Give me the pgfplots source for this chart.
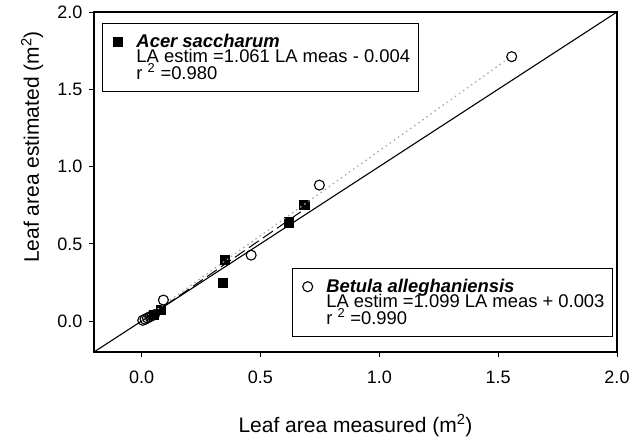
\documentclass[border=0pt]{standalone}
\usepackage{fontspec}
\setmainfont{Liberation Sans}
\usepackage{pgfplots}
\pgfplotsset{compat=1.18}
\newcommand{\legfont}{\fontsize{18.4}{18.4}\selectfont}
\newcommand{\ls}{\rule[-4.6pt]{0pt}{17.5pt}}
\pgfplotsset{
  common/.style={
    at={(0pt,0pt)}, anchor=south west,
    scale only axis, width=523pt, height=340pt,
    xmin=-0.2, xmax=2.0, ymin=-0.2, ymax=2.0,
    clip=false,
  },
  myleg/.style={
    legend cell align=left,
    legend style={draw=black, line width=1pt, fill=white, inner xsep=8pt, inner ysep=10.8pt,
      font=\legfont, column sep=0pt, row sep=0pt,
      nodes={inner sep=0pt}},
    legend image code/.code={\path (0pt,0pt) (25pt,0pt);
      \draw[mark repeat=2,mark phase=2,##1] plot coordinates {(7pt,0pt) (7pt,0pt) (7pt,0pt)};},
  },
}
\begin{document}
\begin{tikzpicture}
\useasboundingbox (-94pt,-88pt) rectangle (538pt,352pt);
\begin{axis}[common, myleg,
  xtick={0,0.5,1,1.5,2}, ytick={0,0.5,1,1.5,2},
  xtick pos=left, ytick pos=left,
  tick align=outside, major tick length=5pt,
  tick style={black, line width=1pt},
  axis line style={black, line width=1.1pt},
  /pgf/number format/.cd, fixed, fixed zerofill, precision=1, assume math mode=true, /pgfplots/.cd,
  tick label style={font=\fontsize{18}{18}\selectfont},
  xticklabel style={anchor=base, yshift=-26pt},
  yticklabel style={anchor=east, xshift=-3pt},
  xlabel={Leaf area measured (m\textsuperscript{2})},
  ylabel={Leaf area estimated (m\textsuperscript{2})},
  label style={font=\fontsize{21}{21}\selectfont},
  xlabel style={at={(rel axis cs:0.5,0)}, anchor=base, yshift=-80pt},
  ylabel style={at={(rel axis cs:-0.1052,0.603)}, anchor=base},
  legend style={at={(0,1)}, anchor=north west, xshift=8pt, yshift=-11pt},
]
% 1:1 line
\addplot[black, line width=1.1pt, forget plot] coordinates {(-0.2,-0.2) (2.0,2.0)};
% Acer regression
\addplot[black, line width=1pt, dash pattern=on 12pt off 5pt, forget plot] coordinates {(0.04,0.038) (0.684,0.722)};
\addplot[only marks, mark=square*, mark size=4.6pt, black] coordinates {
  (0.05,0.04) (0.08,0.075) (0.342,0.246) (0.351,0.395) (0.62,0.64) (0.684,0.751)};
\addlegendentry{\ls\textbf{\textit{Acer saccharum}}}
\addlegendimage{empty legend}
\addlegendentry{\ls LA estim =1.061 LA meas - 0.004}
\addlegendimage{empty legend}
\addlegendentry{\ls r \textsuperscript{2} =0.980}
\end{axis}
\begin{axis}[common, myleg, hide axis,
  legend style={at={(1,0)}, anchor=south east, xshift=-4pt, yshift=15pt},
]
\addplot[gray!70, line width=1.2pt, dash pattern=on 1.5pt off 3.5pt, forget plot] coordinates {(0.0,0.003) (1.557,1.714)};
\addplot[only marks, mark=o, mark size=5pt, black, line width=1.1pt, mark options={fill=white}] coordinates {
  (0.005,0.005) (0.015,0.012) (0.025,0.02) (0.035,0.028) (0.045,0.035) (0.055,0.042)
  (0.092,0.136) (0.461,0.427) (0.748,0.880) (1.557,1.711)};
\addlegendentry{\ls\textbf{\textit{Betula alleghaniensis}}}
\addlegendimage{empty legend}
\addlegendentry{\ls LA estim =1.099 LA meas + 0.003}
\addlegendimage{empty legend}
\addlegendentry{\ls r \textsuperscript{2} =0.990}
\end{axis}
\end{tikzpicture}
\end{document}
